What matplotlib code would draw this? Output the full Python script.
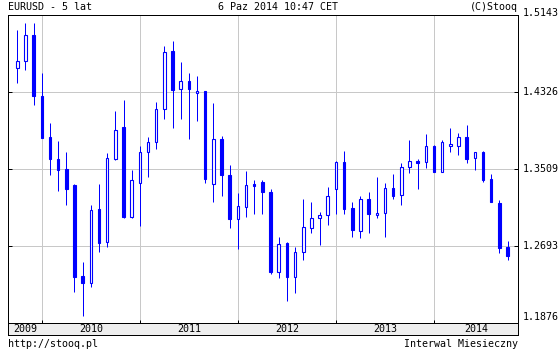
import pandas as pd
import matplotlib
matplotlib.use("Agg")
import matplotlib.pyplot as plt

# monthly candles, Oct 2009 .. Oct 2014
months = pd.period_range("2009-10", "2014-10", freq="M")

opens = [1.4578, 1.4658, 1.4931, 1.4284, 1.3846, 1.3616, 1.3510, 1.3340, 1.2375, 1.2297,
         1.3088, 1.2732, 1.3616, 1.3955, 1.2997, 1.3358, 1.3687, 1.3793, 1.4143, 1.4761,
         1.4355, 1.4443, 1.4313, 1.4337, 1.3347, 1.3828, 1.3446, 1.2976, 1.3110, 1.3350,
         1.3372, 1.3266, 1.2420, 1.2725, 1.2361, 1.2626, 1.2881, 1.2987, 1.3018, 1.3294,
         1.3584, 1.3096, 1.2849, 1.3191, 1.3018, 1.3040, 1.3308, 1.3231, 1.3528, 1.3598,
         1.3587, 1.3753, 1.3481, 1.3757, 1.3757, 1.3846, 1.3623, 1.3690, 1.3400, 1.3149,
         1.2682]
highs = [1.4984, 1.5055, 1.5055, 1.4531, 1.3997, 1.3807, 1.3690, 1.3350, 1.2523, 1.3128,
         1.3350, 1.3682, 1.4125, 1.4241, 1.3499, 1.3753, 1.3846, 1.4223, 1.4814, 1.4867,
         1.4644, 1.4528, 1.4496, 1.4340, 1.4213, 1.3860, 1.3555, 1.3258, 1.3488, 1.3393,
         1.3393, 1.3297, 1.2791, 1.2730, 1.2679, 1.3191, 1.3160, 1.3050, 1.3322, 1.3590,
         1.3700, 1.3160, 1.3223, 1.3266, 1.3428, 1.3361, 1.3457, 1.3570, 1.3817, 1.3616,
         1.3881, 1.3764, 1.3817, 1.3944, 1.3888, 1.3973, 1.3690, 1.3700, 1.3457, 1.3177,
         1.2743]
lows = [1.4425, 1.4560, 1.4185, 1.3838, 1.3449, 1.3279, 1.3131, 1.2208, 1.1950, 1.2261,
        1.2629, 1.2685, 1.3605, 1.2990, 1.2990, 1.2905, 1.3428, 1.3725, 1.4037, 1.3948,
        1.4043, 1.3825, 1.4022, 1.3364, 1.3163, 1.3226, 1.2887, 1.2661, 1.3004, 1.3029,
        1.3029, 1.2399, 1.2350, 1.2113, 1.2197, 1.2547, 1.2834, 1.2707, 1.2912, 1.3029,
        1.3035, 1.2791, 1.2781, 1.2834, 1.2987, 1.2791, 1.3188, 1.3125, 1.3470, 1.3297,
        1.3523, 1.3478, 1.3478, 1.3693, 1.3661, 1.3576, 1.3499, 1.3375, 1.3156, 1.2622,
        1.2544]
closes = [1.4655, 1.4931, 1.4289, 1.3842, 1.3619, 1.3502, 1.3301, 1.2367, 1.2297, 1.3075,
          1.2728, 1.3623, 1.3920, 1.2997, 1.3393, 1.3687, 1.3793, 1.4143, 1.4747, 1.4348,
          1.4443, 1.4355, 1.4337, 1.3400, 1.3825, 1.3443, 1.2982, 1.3117, 1.3340, 1.3332,
          1.3262, 1.2420, 1.2711, 1.2361, 1.2626, 1.2891, 1.2987, 1.3018, 1.3223, 1.3584,
          1.3088, 1.2859, 1.3188, 1.3029, 1.3043, 1.3305, 1.3226, 1.3528, 1.3594, 1.3576,
          1.3753, 1.3481, 1.3793, 1.3764, 1.3846, 1.3619, 1.3687, 1.3393, 1.3160, 1.2675,
          1.2590]

y_ticks = [1.1876, 1.2693, 1.3509, 1.4326, 1.5143]
years = [2009, 2010, 2011, 2012, 2013, 2014]

BLUE = "#0000ff"
GRID = "#c8c8c8"
W, H = 560, 350
PX = 72 / 100  # one pixel in points

plt.rcParams.update({
    "font.family": "DejaVu Sans Mono",
    "font.size": 7.2,
})

fig = plt.figure(figsize=(W / 100, H / 100), dpi=100)
ax = fig.add_axes([8 / W, 27 / H, 510 / W, 308 / H])
band = fig.add_axes([8 / W, 15 / H, 510 / W, 12 / H])

x = list(range(len(months)))
xmin, xmax = -9.3 / 8.17, (518 - 17.3) / 8.17

# grid
year_pos = [i for i, m in enumerate(months) if m.month == 1]
for xp in year_pos:
    ax.axvline(xp, color=GRID, lw=PX, zorder=0)
for yv in y_ticks[1:-1]:
    ax.axhline(yv, color=GRID, lw=PX, zorder=0)

# candles
ax.vlines(x, lows, highs, color=BLUE, lw=PX, zorder=2)
minh = 0.0016
bottoms = [min(o, c) for o, c in zip(opens, closes)]
heights = [max(abs(c - o), minh) for o, c in zip(opens, closes)]
faces = [BLUE if c < o else "white" for o, c in zip(opens, closes)]
ax.bar(x, heights, bottom=bottoms, width=0.31, color=faces,
       edgecolor=BLUE, linewidth=PX * 1.1, zorder=3)

ax.set_xlim(xmin, xmax)
ax.set_ylim(y_ticks[0], y_ticks[-1])
ax.set_xticks(year_pos)
ax.set_xticklabels([])
ax.set_yticks(y_ticks)
ax.set_yticklabels([])
ax.tick_params(axis="x", direction="in", length=3 * PX, width=PX, color="black")
ax.tick_params(axis="y", direction="in", length=4 * PX, width=PX, color="black",
               left=True, right=True)
for s in ax.spines.values():
    s.set_linewidth(PX)
    s.set_color("black")

# price labels on the right
offsets = {0: 6, 4: 2}
for i, yv in enumerate(y_ticks):
    ax.annotate(f"{yv:.4f}", xy=(1, yv), xycoords=("axes fraction", "data"),
                xytext=(5, offsets.get(i, 0)), textcoords="offset pixels",
                va="center", ha="left")

# year band
band.set_facecolor("#eeeeee")
band.set_xlim(xmin, xmax)
band.set_ylim(0, 1)
band.set_xticks([])
band.set_yticks([])
for s in band.spines.values():
    s.set_linewidth(PX)
    s.set_color("black")
edges = [xmin] + year_pos + [xmax]
for yr, a, b in zip(years, edges[:-1], edges[1:]):
    band.text((a + b) / 2, 0.5, str(yr), ha="center", va="center")

# header / footer
fig.text(8 / W, 1 - 7 / H, "EURUSD - 5 lat", ha="left", va="center")
fig.text(218 / W, 1 - 7 / H, "6 Paz 2014 10:47 CET", ha="left", va="center")
fig.text(518 / W, 1 - 7 / H, "(C)Stooq", ha="right", va="center")
fig.text(8 / W, 1 - 344 / H, "http://stooq.pl", ha="left", va="center")
fig.text(518 / W, 1 - 344 / H, "Interwal Miesieczny", ha="right", va="center")

fig.savefig("out.png", dpi=100, facecolor="white")
